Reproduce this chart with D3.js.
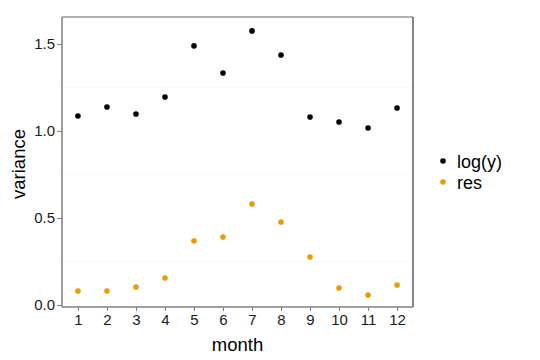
<!DOCTYPE html>
<html><head><meta charset="utf-8">
<script src="https://cdn.jsdelivr.net/npm/d3@7"></script>
<style>body{margin:0;background:#fff}svg{font-family:"Liberation Sans",Arial,sans-serif}</style>
</head><body><svg id="c" width="540" height="360"></svg>
<script>
const months = [1,2,3,4,5,6,7,8,9,10,11,12];
const logy = [1.086,1.138,1.098,1.195,1.489,1.333,1.575,1.437,1.080,1.052,1.017,1.132];
const res = [0.080,0.080,0.103,0.155,0.368,0.391,0.580,0.477,0.276,0.098,0.057,0.115];
const yTicks = [0.0,0.5,1.0,1.5];
const seriesNames = ["log(y)","res"];
const seriesColors = ["#000000","#E69F00"];

const svg = d3.select("#c");
const L=62,R=413,T=17,B=307;
const x = d3.scaleLinear().domain([0.45,12.55]).range([L,R]);
const y = d3.scaleLinear().domain([0,1.655]).range([305,T]);

// faint grid
svg.append("g").selectAll("line").data([0.25,0.75,1.25]).join("line")
  .attr("x1",L).attr("x2",R).attr("y1",d=>y(d)).attr("y2",d=>y(d))
  .attr("stroke","#f8f8f8").attr("stroke-width",1);

// frame top and right
svg.append("line").attr("x1",L).attr("x2",R).attr("y1",T).attr("y2",T).attr("stroke","#999").attr("stroke-width",1.5);
svg.append("line").attr("x1",R).attr("x2",R).attr("y1",T).attr("y2",B).attr("stroke","#333").attr("stroke-width",1.2);

// axes
const xa = svg.append("g").attr("transform",`translate(0,${B})`)
  .call(d3.axisBottom(x).tickValues(months).tickSize(4).tickPadding(3).tickSizeOuter(0));
const ya = svg.append("g").attr("transform",`translate(${L},0)`)
  .call(d3.axisLeft(y).tickValues(yTicks).tickFormat(d3.format(".1f")).tickSize(5).tickPadding(2).tickSizeOuter(0));
[xa,ya].forEach(a=>{
  a.select(".domain").attr("stroke","#808080").attr("stroke-width",1.5);
  a.selectAll(".tick line").attr("stroke","#808080");
  a.selectAll(".tick text").attr("fill","#1a1a1a").attr("font-size",15);
});
ya.select(".domain").attr("d",`M0,${T}V${B}`);
xa.select(".domain").attr("d",`M${L},0H${R}`);

// points
const series=[logy,res];
series.forEach((s,i)=>{
  svg.append("g").selectAll("circle").data(s).join("circle")
    .attr("cx",(d,j)=>x(months[j])).attr("cy",d=>y(d)).attr("r",2.8)
    .attr("fill",seriesColors[i]);
});

// axis titles
svg.append("text").attr("x",(L+R)/2).attr("y",351).attr("text-anchor","middle")
  .attr("font-size",18.5).attr("fill","#000").text("month");
svg.append("text").attr("transform",`translate(25,${(T+B)/2+2}) rotate(-90)`).attr("text-anchor","middle")
  .attr("font-size",18.5).attr("fill","#000").text("variance");

// legend
const lg = svg.append("g");
seriesNames.forEach((n,i)=>{
  lg.append("circle").attr("cx",443).attr("cy",161+i*21).attr("r",2.8).attr("fill",seriesColors[i]);
  lg.append("text").attr("x",457).attr("y",167.5+i*21).attr("font-size",18).attr("fill","#000").text(n);
});
</script></body></html>
